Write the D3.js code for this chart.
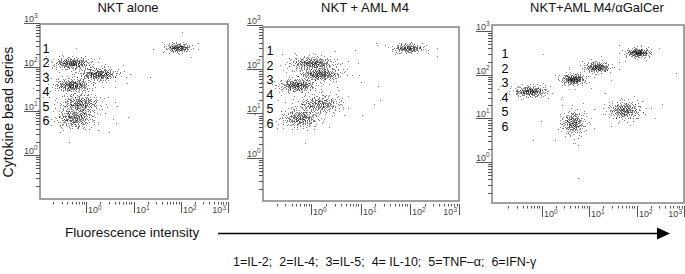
<!DOCTYPE html>
<html><head><meta charset="utf-8">
<script src="https://cdn.jsdelivr.net/npm/d3@7"></script>
<style>
html,body{margin:0;padding:0;background:#fff;}
svg{display:block;font-family:"Liberation Sans",Arial,sans-serif;}
</style></head>
<body><svg id="c" width="685" height="274"></svg>
<script>
// ---------- data ----------
const panelTitles = ["NKT alone", "NKT + AML M4", "NKT+AML M4/\u03B1GalCer"];
const beadLabels = ["1", "2", "3", "4", "5", "6"];
const tickExponents = ["0", "1", "2", "3"];
const yAxisTitle = "Cytokine bead series";
const xAxisTitle = "Fluorescence intensity";
const legendText = "1=IL-2;  2=IL-4;  3=IL-5;  4= IL-10;  5=TNF\u2013\u03B1;  6=IFN-\u03B3";

// cluster centres (geometric means) for beads 1..6
const alone_x = [87, 0.50, 1.77, 0.50, 0.74, 0.57];
const alone_y = [277, 123, 69, 39, 15, 6.9];
const alone_sdx = [0.13, 0.19, 0.2, 0.18, 0.2, 0.2];
const alone_sdy = [0.05, 0.065, 0.07, 0.07, 0.11, 0.11];
const alone_n = [170, 260, 280, 260, 280, 280];

const m4_x = [92, 1.03, 1.5, 0.51, 1.5, 0.59];
const m4_y = [302, 139, 78, 44, 16.5, 7.9];
const m4_sdx = [0.15, 0.22, 0.2, 0.18, 0.22, 0.18];
const m4_sdy = [0.05, 0.07, 0.07, 0.07, 0.1, 0.1];
const m4_n = [170, 280, 280, 260, 260, 260];

const gal_x = [107, 14.7, 4.6, 0.57, 55, 4.6];
const gal_y = [323, 150, 80, 42, 15.5, 7.9];
const gal_sdx = [0.12, 0.13, 0.12, 0.17, 0.17, 0.12];
const gal_sdy = [0.05, 0.06, 0.06, 0.06, 0.1, 0.13];
const gal_n = [200, 200, 220, 230, 260, 240];

// isolated events
const alone_out_x = [4.0, 4.5, 4.3, 105];
const alone_out_y = [35, 12.9, 5.3, 630];
const m4_out_x = [7.7, 8.9, 9.4, 23, 18.6, 21];
const m4_out_y = [275, 139, 74, 42, 16.5, 392];
const gal_out_x = [1.07, 680, 0.66, 4.6, 5.9, 4.4];
const gal_out_y = [297, 110, 3.2, 2.7, 0.44, 20];

// ---------- layout ----------
const panels = [
  {title: panelTitles[0], cx: alone_x, cy: alone_y, sx: alone_sdx, sy: alone_sdy, n: alone_n, ox: alone_out_x, oy: alone_out_y,
   box: {x0: 40, x1: 228, y0: 24, y1: 199}, xr: [39, 228], yr: [199, 23], titleX: 128, labX: 46, labY0: 52.5},
  {title: panelTitles[1], cx: m4_x, cy: m4_y, sx: m4_sdx, sy: m4_sdy, n: m4_n, ox: m4_out_x, oy: m4_out_y,
   box: {x0: 263, x1: 459, y0: 27, y1: 201}, xr: [262, 459], yr: [202, 25], titleX: 365, labX: 270, labY0: 55},
  {title: panelTitles[2], cx: gal_x, cy: gal_y, sx: gal_sdx, sy: gal_sdy, n: gal_n, ox: gal_out_x, oy: gal_out_y,
   box: {x0: 492, x1: 684, y0: 25, y1: 203}, xr: [494, 684], yr: [205.7, 31], titleX: 597, labX: 505, labY0: 58}
];

const svg = d3.select("#c");

// deterministic low-discrepancy sequence used to spread each population's events
function halton(i, b) { let f = 1, r = 0; while (i > 0) { f /= b; r += f * (i % b); i = Math.floor(i / b); } return r; }

panels.forEach((p, pi) => {
  const x = d3.scaleLog().domain([0.1, 1000]).range(p.xr);
  const y = d3.scaleLog().domain([0.1, 1000]).range(p.yr);
  const g = svg.append("g");

  // title
  g.append("text").attr("x", p.titleX).attr("y", 12).attr("text-anchor", "middle")
    .attr("font-size", 13).attr("fill", "#111").text(p.title);

  // events
  const pts = [];
  p.cx.forEach((cx, k) => {
    const lx = Math.log10(cx), ly = Math.log10(p.cy[k]);
    const total = p.n[k];
    const halo = Math.round(total * 0.12);
    for (let i = 1; i <= total + halo; i++) {
      const idx = i + k * 977 + pi * 7919;
      let u1 = halton(idx, 2), u2 = halton(idx, 3);
      if (u1 < 1e-4) u1 = 1e-4;
      let r = Math.min(Math.sqrt(-2 * Math.log(u1)), 2.8);
      const s = i > total ? 2.0 : 1;
      const dx = r * Math.cos(2 * Math.PI * u2) * p.sx[k] * s;
      const dy = r * Math.sin(2 * Math.PI * u2) * p.sy[k] * s;
      pts.push([Math.pow(10, lx + dx), Math.pow(10, ly + dy)]);
    }
  });
  p.ox.forEach((v, i) => pts.push([v, p.oy[i]]));
  g.append("g").selectAll("rect").data(pts).join("rect")
    .attr("x", d => Math.round(x(d[0])))
    .attr("y", d => Math.round(y(d[1])))
    .attr("width", 1).attr("height", 1)
    .attr("fill", "#000").attr("fill-opacity", 0.5);

  // box
  g.append("rect").attr("x", p.box.x0).attr("y", p.box.y0)
    .attr("width", p.box.x1 - p.box.x0).attr("height", p.box.y1 - p.box.y0)
    .attr("fill", "none").attr("stroke", "#8a8a8a").attr("stroke-width", 1.6);

  // bead numbers
  g.append("g").selectAll("text").data(beadLabels).join("text")
    .attr("x", p.labX).attr("y", (d, i) => p.labY0 + i * 14.5)
    .attr("text-anchor", "middle").attr("font-size", 12.5).attr("fill", "#000").text(d => d);

  const ticks = x.ticks();
  const isMajor = t => Math.abs(Math.log10(t) - Math.round(Math.log10(t))) < 1e-9;

  // x axis
  const xa = g.append("g");
  const xt = p.box.y1 + 3;
  ticks.filter(t => t > 0.1).forEach(t => {
    const px = Math.round(x(t)) + 0.5;
    xa.append("line").attr("x1", px).attr("x2", px).attr("y1", xt).attr("y2", xt + (isMajor(t) ? 11 : 2.5))
      .attr("stroke", "#555").attr("stroke-width", 1);
  });
  [1, 10, 100, 1000].forEach((t, i) => {
    const px = Math.round(x(t));
    const last = t === 1000;
    const tx = xa.append("text").attr("x", last ? px - 2 : px + 2).attr("y", p.box.y1 + 14)
      .attr("text-anchor", last ? "end" : "start").attr("font-size", 9).attr("fill", "#444");
    tx.append("tspan").text("10");
    tx.append("tspan").attr("dy", -3.5).attr("font-size", 6.5).text(tickExponents[i]);
  });

  // y axis
  const ya = g.append("g");
  const x0 = p.box.x0;
  ticks.filter(t => t > 0.1).forEach(t => {
    const py = Math.round(y(t)) + 0.5;
    ya.append("line").attr("x1", x0 - (isMajor(t) ? 16 : 4)).attr("x2", x0).attr("y1", py).attr("y2", py)
      .attr("stroke", "#555").attr("stroke-width", 1);
  });
  [1, 10, 100, 1000].forEach((t, i) => {
    const py = Math.round(y(t));
    const tx = ya.append("text").attr("x", x0 - 16).attr("y", py - 1.5)
      .attr("font-size", 9).attr("fill", "#444");
    tx.append("tspan").text("10");
    tx.append("tspan").attr("dy", -3.5).attr("font-size", 6.5).text(tickExponents[i]);
  });
});

// y axis title
svg.append("text").attr("transform", "translate(13,112) rotate(-90)")
  .attr("text-anchor", "middle").attr("font-size", 14).attr("fill", "#111").text(yAxisTitle);

// x axis title with arrow
svg.append("text").attr("x", 65).attr("y", 237).attr("font-size", 13.5).attr("fill", "#111").text(xAxisTitle);
svg.append("line").attr("x1", 218).attr("x2", 660).attr("y1", 233.5).attr("y2", 233.5)
  .attr("stroke", "#000").attr("stroke-width", 1.5);
svg.append("path").attr("d", "M657,227.5 L670,233.5 L657,239.5 Z").attr("fill", "#000");

// legend
svg.append("text").attr("x", 233).attr("y", 266).attr("font-size", 12.5).attr("fill", "#111")
  .attr("xml:space", "preserve").style("white-space", "pre").text(legendText);
</script>
</body></html>
